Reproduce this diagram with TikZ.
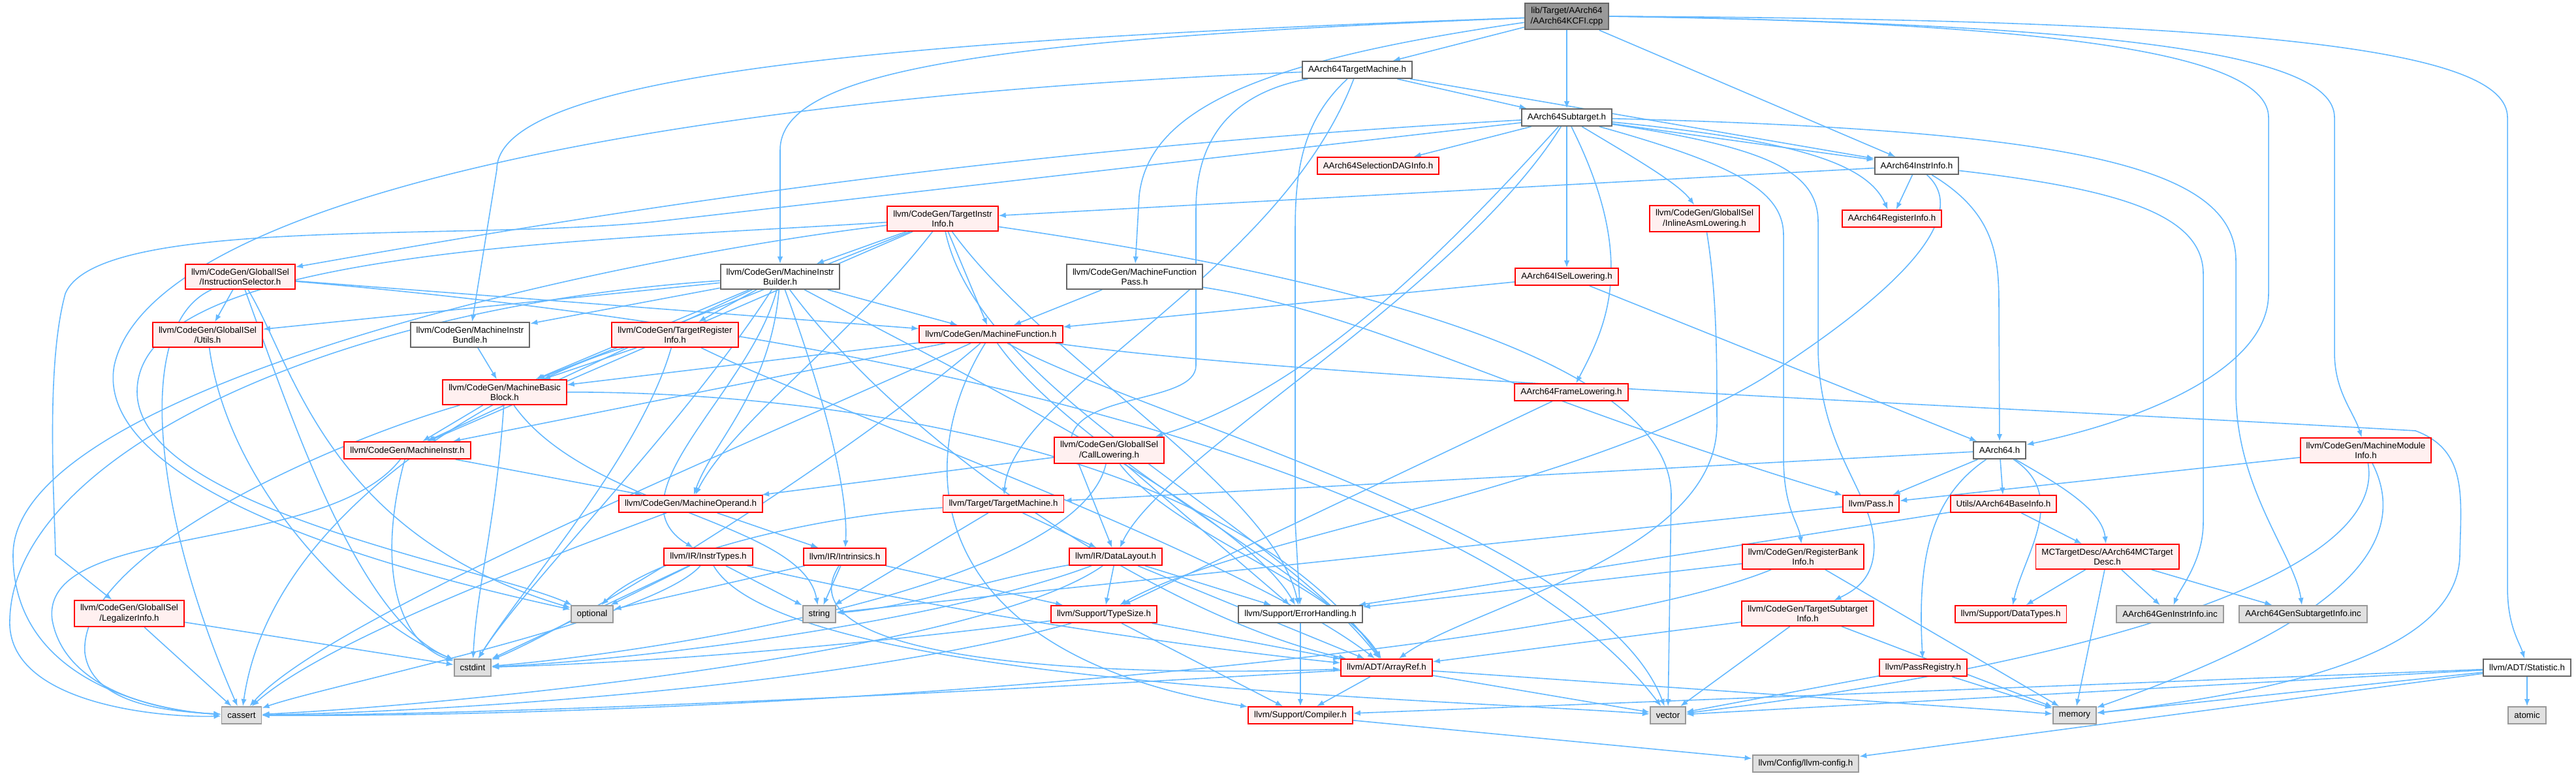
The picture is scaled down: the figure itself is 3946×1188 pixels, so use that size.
\documentclass[tikz,border=0pt]{standalone}
\usepackage{fontspec}
\setmainfont{Liberation Sans}
\usetikzlibrary{arrows.meta,backgrounds}
\definecolor{dxred}{HTML}{FF0000}
\definecolor{dxpink}{HTML}{FFF0F0}
\definecolor{dxframe}{HTML}{666666}
\definecolor{dxsysline}{HTML}{999999}
\definecolor{dxsysfill}{HTML}{E0E0E0}
\definecolor{dxroot}{HTML}{999999}
\definecolor{dxedge}{HTML}{63B8FF}
\tikzset{
  filebox/.style={rectangle, line width=0.55pt, font=\fontsize{3.8}{4.3}\selectfont, align=center, inner xsep=0.9mm, inner ysep=0.65mm, minimum height=2.6mm},
  truncnode/.style={filebox, draw=dxred, fill=dxpink},
  plainnode/.style={filebox, draw=dxframe, fill=white},
  sysnode/.style={filebox, draw=dxsysline, fill=dxsysfill},
  rootnode/.style={filebox, draw=dxframe, fill=dxroot},
  dep/.style={draw=dxedge, line width=0.45pt, -{Latex[length=1.1mm,width=0.85mm]}}
}

\begin{document}
\begin{tikzpicture}[x=0.1mm,y=-0.1mm] %one unit is one pixel of the graph, y runs down
\useasboundingbox (0,0) rectangle (3946,1188);
% files of the graph, rank by rank
\node[rootnode] (root) at (2400,25) {lib/Target/AArch64\\/AArch64KCFI.cpp};
\node[plainnode] (a64tm) at (2079,107) {AArch64TargetMachine.h};
\node[plainnode] (a64st) at (2400,180) {AArch64Subtarget.h};
\node[truncnode] (a64sdag) at (2111,254) {AArch64SelectionDAGInfo.h};
\node[plainnode] (a64ii) at (2936,254) {AArch64InstrInfo.h};
\node[truncnode] (tii) at (1444,335) {llvm/CodeGen/TargetInstr\\Info.h};
\node[truncnode] (inlineasm) at (2611,335) {llvm/CodeGen/GlobalISel\\/InlineAsmLowering.h};
\node[truncnode] (a64ri) at (2898,335) {AArch64RegisterInfo.h};
\node[truncnode] (instsel) at (368,424) {llvm/CodeGen/GlobalISel\\/InstructionSelector.h};
\node[plainnode] (mib) at (1195,424) {llvm/CodeGen/MachineInstr\\Builder.h};
\node[plainnode] (mfp) at (1738,424) {llvm/CodeGen/MachineFunction\\Pass.h};
\node[truncnode] (a64isel) at (2400,424) {AArch64ISelLowering.h};
\node[truncnode] (giutils) at (318,513) {llvm/CodeGen/GlobalISel\\/Utils.h};
\node[plainnode] (mibundle) at (720,513) {llvm/CodeGen/MachineInstr\\Bundle.h};
\node[truncnode] (tri) at (1034,513) {llvm/CodeGen/TargetRegister\\Info.h};
\node[truncnode] (mf) at (1518,512) {llvm/CodeGen/MachineFunction.h};
\node[truncnode] (mbb) at (773,601) {llvm/CodeGen/MachineBasic\\Block.h};
\node[truncnode] (a64fl) at (2407,601) {AArch64FrameLowering.h};
\node[truncnode] (mi) at (624,690) {llvm/CodeGen/MachineInstr.h};
\node[truncnode] (calllow) at (1699,690) {llvm/CodeGen/GlobalISel\\/CallLowering.h};
\node[plainnode] (a64) at (3063,690) {AArch64.h};
\node[truncnode] (mmi) at (3624,690) {llvm/CodeGen/MachineModule\\Info.h};
\node[truncnode] (mo) at (1058,772) {llvm/CodeGen/MachineOperand.h};
\node[truncnode] (tgtmachine) at (1537,772) {llvm/Target/TargetMachine.h};
\node[truncnode] (pass) at (2866,772) {llvm/Pass.h};
\node[truncnode] (baseinfo) at (3069,772) {Utils/AArch64BaseInfo.h};
\node[truncnode] (instrtypes) at (1085,853) {llvm/IR/InstrTypes.h};
\node[truncnode] (intrinsics) at (1294,853) {llvm/IR/Intrinsics.h};
\node[truncnode] (datalayout) at (1709,853) {llvm/IR/DataLayout.h};
\node[truncnode] (rbi) at (2762,853) {llvm/CodeGen/RegisterBank\\Info.h};
\node[truncnode] (mctd) at (3228,853) {MCTargetDesc/AArch64MCTarget\\Desc.h};
\node[truncnode] (legal) at (198,940) {llvm/CodeGen/GlobalISel\\/LegalizerInfo.h};
\node[sysnode] (optional) at (907,941) {optional};
\node[sysnode] (string) at (1255,941) {string};
\node[truncnode] (typesize) at (1691,941) {llvm/Support/TypeSize.h};
\node[plainnode] (errh) at (1992,941) {llvm/Support/ErrorHandling.h};
\node[truncnode] (tsi) at (2769,940) {llvm/CodeGen/TargetSubtarget\\Info.h};
\node[truncnode] (datatypes) at (3080,941) {llvm/Support/DataTypes.h};
\node[sysnode] (geninstr) at (3324,941) {AArch64GenInstrInfo.inc};
\node[sysnode] (gensub) at (3528,941) {AArch64GenSubtargetInfo.inc};
\node[sysnode] (cstdint) at (724,1023) {cstdint};
\node[truncnode] (arrayref) at (2124,1023) {llvm/ADT/ArrayRef.h};
\node[truncnode] (passreg) at (2946,1023) {llvm/PassRegistry.h};
\node[plainnode] (stat) at (3871,1023) {llvm/ADT/Statistic.h};
\node[sysnode] (cassert) at (370,1096) {cassert};
\node[truncnode] (compiler) at (1992,1096) {llvm/Support/Compiler.h};
\node[sysnode] (vector) at (2555,1096) {vector};
\node[sysnode] (memory) at (3178,1096) {memory};
\node[sysnode] (atomic) at (3871,1096) {atomic};
\node[sysnode] (llvmconfig) at (2766,1170) {llvm/Config/llvm-config.h};

\begin{pgfonlayer}{background}
% includes of the cpp file
\draw[dep] (root) -- (a64tm);
\draw[dep] (root) -- (a64st);
\draw[dep] (root) -- (a64ii);
\draw[dep] (root.east) .. controls (3200,35) and (3475,90) .. (3475,180) -- (3475,450) .. controls (3475,560) and (3300,640) .. (a64);
\draw[dep] (root.east) .. controls (3300,38) and (3576,90) .. (3576,180) -- (3576,540) .. controls (3576,600) and (3605,630) .. (mmi);
\draw[dep] (root.east) .. controls (3500,30) and (3841,80) .. (3841,180) -- (3841,900) .. controls (3841,960) and (3860,985) .. (stat);
\draw[dep] (root) .. controls (1950,90) and (1760,160) .. (1745,300) -- (mfp);
\draw[dep] (root) .. controls (1500,60) and (1195,110) .. (1195,230) -- (mib);
\draw[dep] (root) .. controls (1400,60) and (761,110) .. (761,260) -- (mibundle);
% AArch64TargetMachine.h
\draw[dep] (a64tm) -- (a64st);
\draw[dep] (a64tm) -- (a64ii);
\draw[dep] (a64tm) .. controls (1000,150) and (230,310) .. (175,560) .. controls (150,700) and (400,830) .. (optional);
\draw[dep] (a64tm) .. controls (1900,140) and (1832,200) .. (1832,320) -- (1832,560) .. controls (1832,620) and (1640,600) .. (1640,680) -- (datalayout);
\draw[dep] (a64tm) .. controls (2000,180) and (1984,250) .. (1984,350) -- (1984,800) -- (errh);
\draw[dep] (a64tm) .. controls (1960,420) and (1550,600) .. (tgtmachine);
% AArch64Subtarget.h
\draw[dep] (a64st) -- (a64sdag);
\draw[dep] (a64st) -- (a64isel);
\draw[dep] (a64st) .. controls (2510,400) and (2460,500) .. (a64fl);
\draw[dep] (a64st) .. controls (2500,240) and (2570,280) .. (inlineasm);
\draw[dep] (a64st) .. controls (2750,215) and (2860,250) .. (a64ri);
\draw[dep] (a64st) -- (a64ii);
\draw[dep] (a64st) .. controls (3200,200) and (3425,260) .. (3425,400) -- (3425,600) .. controls (3425,750) and (3515,850) .. (gensub);
\draw[dep] (a64st) .. controls (2650,250) and (2732,290) .. (2732,360) -- (2732,700) .. controls (2732,780) and (2755,800) .. (rbi);
\draw[dep] (a64st) .. controls (2700,225) and (2785,260) .. (2785,340) -- (2785,530) .. controls (2785,700) and (2880,760) .. (2870,850) .. controls (2865,890) and (2840,905) .. (tsi);
\draw[dep] (a64st) .. controls (2200,400) and (2000,600) .. (calllow);
\draw[dep] (a64st) .. controls (2230,450) and (1780,700) .. (datalayout);
\draw[dep] (a64st) .. controls (1500,230) and (900,330) .. (instsel);
\draw[dep] (a64st) -- (1000,340) .. controls (700,370) and (150,330) .. (100,450) .. controls (70,560) and (83,760) .. (85,850) -- (legal);
% AArch64InstrInfo.h
\draw[dep] (a64ii) .. controls (3062,330) and (3062,400) .. (3062,480) -- (a64);
\draw[dep] (a64ii) -- (a64ri);
\draw[dep] (a64ii) .. controls (3010,320) and (2950,420) .. (2700,580) .. controls (2400,760) and (1900,820) .. (typesize);
\draw[dep] (a64ii) -- (tii);
\draw[dep] (a64ii) .. controls (3250,290) and (3375,330) .. (3375,420) -- (3375,800) .. controls (3375,860) and (3340,900) .. (geninstr);
% lowering headers
\draw[dep] (a64isel) -- (mf);
\draw[dep] (a64isel) -- (a64);
\draw[dep] (a64fl) -- (typesize);
\draw[dep] (inlineasm) .. controls (2630,450) and (2630,550) .. (2630,650) .. controls (2630,850) and (2250,930) .. (arrayref);
% TargetInstrInfo.h
\draw[dep] (tii) -- (mib);
\draw[dep] (tii) -- (mf);
\draw[dep] (tii) -- (mbb);
\draw[dep] (tii) -- (mi);
\draw[dep] (tii) .. controls (1300,520) and (1120,650) .. (mo);
\draw[dep] (tii) .. controls (900,400) and (20,600) .. (20,850) .. controls (20,1050) and (250,1090) .. (cassert);
\draw[dep] (tii) .. controls (900,370) and (210,380) .. (210,600) .. controls (210,780) and (750,870) .. (optional);
\draw[dep] (tii) .. controls (1500,600) and (1950,800) .. (arrayref);
\draw[dep] (tii) .. controls (1600,550) and (1950,750) .. (errh);
\draw[dep] (tii) .. controls (2100,430) and (2560,560) .. (2560,760) -- (vector);
% MachineInstrBuilder.h
\draw[dep] (mib) -- (giutils);
\draw[dep] (mib) -- (mibundle);
\draw[dep] (mib) -- (mbb);
\draw[dep] (mib) -- (mf);
\draw[dep] (mib) -- (mi);
\draw[dep] (mib) .. controls (1180,600) and (1090,680) .. (mo);
\draw[dep] (mib) -- (tri);
\draw[dep] (mib) .. controls (1150,600) and (930,760) .. (instrtypes);
\draw[dep] (mib) .. controls (1260,600) and (1300,750) .. (intrinsics);
\draw[dep] (mib) .. controls (1400,700) and (1800,950) .. (arrayref);
\draw[dep] (mib) .. controls (1450,560) and (1900,780) .. (errh);
\draw[dep] (mib) .. controls (500,470) and (20,700) .. (15,950) .. controls (10,1080) and (250,1100) .. (cassert);
\draw[dep] (mib) .. controls (1050,650) and (800,900) .. (cstdint);
% MachineFunctionPass.h
\draw[dep] (mfp) -- (mf);
\draw[dep] (mfp) .. controls (2100,480) and (2300,600) .. (pass);
% GlobalISel
\draw[dep] (instsel) -- (giutils);
\draw[dep] (instsel) -- (mf);
\draw[dep] (instsel) .. controls (1500,520) and (2300,760) .. (vector);
\draw[dep] (instsel) .. controls (450,650) and (550,950) .. (cstdint);
\draw[dep] (instsel) .. controls (450,560) and (500,820) .. (optional);
\draw[dep] (instsel) .. controls (200,500) and (240,800) .. (cassert);
\draw[dep] (giutils) .. controls (350,750) and (550,950) .. (cstdint);
\draw[dep] (mibundle) -- (mbb);
% TargetRegisterInfo.h
\draw[dep] (tri) -- (mbb);
\draw[dep] (tri) .. controls (850,560) and (420,750) .. (cassert);
\draw[dep] (tri) .. controls (980,700) and (800,900) .. (cstdint);
\draw[dep] (tri) .. controls (1250,620) and (1900,850) .. (arrayref);
% MachineFunction.h
\draw[dep] (mf) -- (mbb);
\draw[dep] (mf) -- (mi);
\draw[dep] (mf) .. controls (1650,700) and (2050,900) .. (arrayref);
\draw[dep] (mf) .. controls (1400,700) and (1400,1000) .. (compiler);
\draw[dep] (mf) .. controls (1100,700) and (500,950) .. (cassert);
\draw[dep] (mf) .. controls (1300,700) and (900,950) .. (cstdint);
\draw[dep] (mf) .. controls (2000,580) and (3000,620) .. (3700,660) .. controls (3780,690) and (3770,760) .. (3768,850) .. controls (3766,1000) and (3500,1060) .. (memory);
\draw[dep] (mf) .. controls (1750,640) and (2450,820) .. (vector);
% MachineBasicBlock.h, MachineInstr.h, MachineOperand.h
\draw[dep] (mbb) -- (mi);
\draw[dep] (mbb) .. controls (500,680) and (120,850) .. (130,1000) .. controls (140,1080) and (260,1090) .. (cassert);
\draw[dep] (mbb) .. controls (760,800) and (730,900) .. (cstdint);
\draw[dep] (mbb) .. controls (900,780) and (1230,800) .. (string);
\draw[dep] (mbb) .. controls (1300,600) and (1900,700) .. (arrayref);
\draw[dep] (mi) -- (mo);
\draw[dep] (mi) .. controls (500,850) and (60,800) .. (80,950) .. controls (100,1060) and (250,1090) .. (cassert);
\draw[dep] (mi) .. controls (580,850) and (600,980) .. (cstdint);
\draw[dep] (mo) -- (intrinsics);
\draw[dep] (mo) .. controls (850,850) and (500,980) .. (cassert);
% CallLowering.h
\draw[dep] (calllow) -- (mo);
\draw[dep] (calllow) -- (errh);
\draw[dep] (calllow) .. controls (1800,820) and (2050,900) .. (arrayref);
\draw[dep] (calllow) .. controls (1650,900) and (1000,1000) .. (cstdint);
% llvm/Target/TargetMachine.h
\draw[dep] (tgtmachine) -- (datalayout);
\draw[dep] (tgtmachine) -- (string);
\draw[dep] (tgtmachine) .. controls (1250,790) and (1000,850) .. (optional);
% llvm/IR
\draw[dep] (instrtypes) -- (string);
\draw[dep] (instrtypes) .. controls (1500,950) and (1900,1000) .. (arrayref);
\draw[dep] (instrtypes) .. controls (1000,950) and (500,1050) .. (cassert);
\draw[dep] (instrtypes) -- (cstdint);
\draw[dep] (instrtypes) -- (optional);
\draw[dep] (instrtypes) .. controls (1200,1050) and (2200,1070) .. (vector);
\draw[dep] (intrinsics) -- (string);
\draw[dep] (intrinsics) -- (typesize);
\draw[dep] (intrinsics) -- (optional);
\draw[dep] (intrinsics) .. controls (1200,1000) and (1600,1040) .. (arrayref);
\draw[dep] (datalayout) -- (typesize);
\draw[dep] (datalayout) -- (errh);
\draw[dep] (datalayout) .. controls (1500,890) and (1400,930) .. (string);
\draw[dep] (datalayout) -- (arrayref);
\draw[dep] (datalayout) .. controls (1500,1000) and (700,1080) .. (cassert);
\draw[dep] (datalayout) .. controls (1450,950) and (1000,1010) .. (cstdint);
% llvm/Support and llvm/ADT
\draw[dep] (typesize) .. controls (1300,1050) and (700,1090) .. (cassert);
\draw[dep] (typesize) .. controls (1300,990) and (1000,1015) .. (cstdint);
\draw[dep] (typesize) -- (compiler);
\draw[dep] (typesize) -- (arrayref);
\draw[dep] (errh) -- (compiler);
\draw[dep] (arrayref) -- (compiler);
\draw[dep] (arrayref) -- (vector);
\draw[dep] (arrayref) -- (memory);
\draw[dep] (arrayref) .. controls (1500,1060) and (800,1095) .. (cassert);
\draw[dep] (compiler) -- (llvmconfig);
% RegisterBankInfo.h, TargetSubtargetInfo.h, LegalizerInfo.h
\draw[dep] (rbi) -- (errh);
\draw[dep] (rbi) .. controls (2400,1000) and (1200,1100) .. (cassert);
\draw[dep] (rbi) -- (memory);
\draw[dep] (tsi) -- (arrayref);
\draw[dep] (tsi) -- (vector);
\draw[dep] (tsi) -- (memory);
\draw[dep] (legal) -- (cassert);
\draw[dep] (legal) -- (cstdint);
% AArch64.h and target description
\draw[dep] (a64) .. controls (3150,740) and (3220,780) .. (mctd);
\draw[dep] (a64) -- (baseinfo);
\draw[dep] (a64) -- (pass);
\draw[dep] (a64) .. controls (2960,760) and (2936,850) .. (passreg);
\draw[dep] (a64) .. controls (3170,760) and (3100,850) .. (datatypes);
\draw[dep] (a64) -- (tgtmachine);
\draw[dep] (baseinfo) -- (mctd);
\draw[dep] (baseinfo) -- (errh);
\draw[dep] (mctd) -- (datatypes);
\draw[dep] (mctd) -- (memory);
\draw[dep] (mctd) -- (geninstr);
\draw[dep] (mctd) -- (gensub);
\draw[dep] (pass) -- (string);
% MachineModuleInfo.h, PassRegistry.h, Statistic.h
\draw[dep] (mmi) -- (pass);
\draw[dep] (mmi) .. controls (3720,880) and (3450,1000) .. (memory);
\draw[dep] (mmi) .. controls (3660,900) and (3100,1030) .. (vector);
\draw[dep] (passreg) -- (memory);
\draw[dep] (passreg) -- (vector);
\draw[dep] (stat) -- (atomic);
\draw[dep] (stat) -- (memory);
\draw[dep] (stat) -- (llvmconfig);
\draw[dep] (stat) -- (compiler);
\draw[dep] (stat) -- (vector);
\end{pgfonlayer}
\end{tikzpicture}
\end{document}
